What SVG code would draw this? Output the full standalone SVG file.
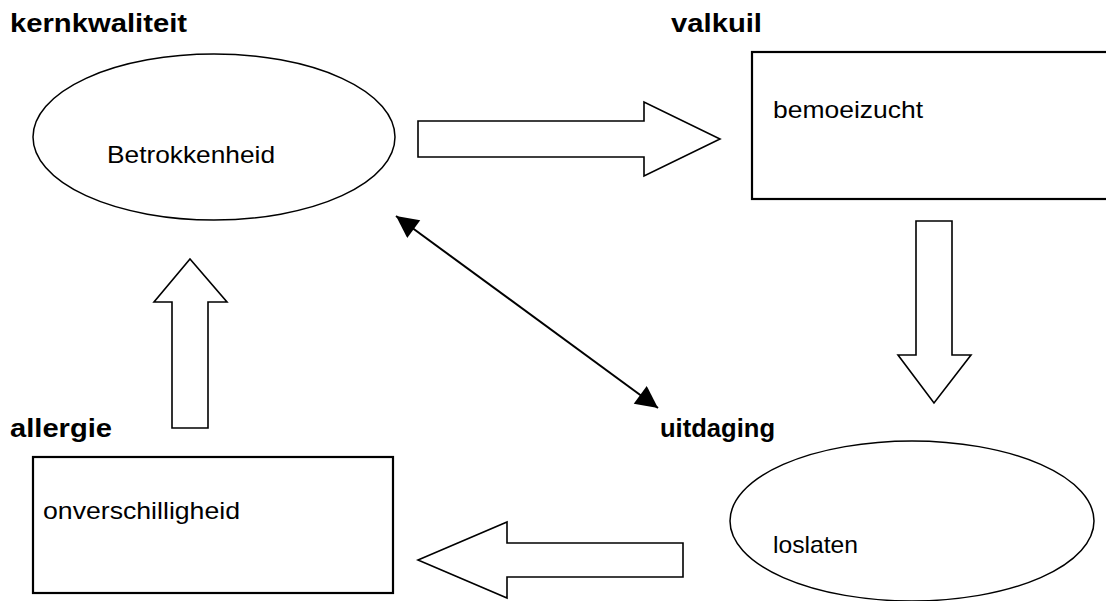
<svg xmlns="http://www.w3.org/2000/svg" width="1106" height="601" viewBox="0 0 1106 601">
<style>
.lbl{font-family:"Liberation Sans",Arial,sans-serif;font-weight:bold;font-size:26px;fill:#000}
.txt{font-family:"Liberation Sans",Arial,sans-serif;font-size:24px;fill:#000}
.shape{fill:#fff;stroke:#000;stroke-width:1.5}
.box{fill:#fff;stroke:#000;stroke-width:2.2}
.blk{fill:#fff;stroke:#000;stroke-width:1.6;stroke-linejoin:miter}
.con{stroke:#000;stroke-width:2;fill:none}
</style>
<defs>
<marker id="ah" viewBox="0 0 10 10" refX="10" refY="5" markerUnits="userSpaceOnUse" markerWidth="26" markerHeight="22" orient="auto-start-reverse">
<path d="M0,0 L10,5 L0,10 Z" fill="#000"/>
</marker>
</defs>
<rect width="1106" height="601" fill="#fff"/>
<g id="kernkwaliteit">
<text class="lbl" x="10" y="32" textLength="177" lengthAdjust="spacingAndGlyphs">kernkwaliteit</text>
<ellipse class="shape" cx="214" cy="137" rx="181" ry="83"/>
<text class="txt" x="107" y="163" textLength="168" lengthAdjust="spacingAndGlyphs">Betrokkenheid</text>
</g>
<g id="valkuil">
<text class="lbl" x="671" y="32" textLength="91" lengthAdjust="spacingAndGlyphs">valkuil</text>
<rect class="box" x="752" y="52" width="370" height="147"/>
<text class="txt" x="773" y="118" textLength="150" lengthAdjust="spacingAndGlyphs">bemoeizucht</text>
</g>
<g id="allergie">
<text class="lbl" x="10" y="437" textLength="102" lengthAdjust="spacingAndGlyphs">allergie</text>
<rect class="box" x="33" y="457" width="360" height="136"/>
<text class="txt" x="43" y="519" textLength="197" lengthAdjust="spacingAndGlyphs">onverschilligheid</text>
</g>
<g id="uitdaging">
<text class="lbl" x="660" y="437" textLength="115" lengthAdjust="spacingAndGlyphs">uitdaging</text>
<ellipse class="shape" cx="912" cy="521" rx="182" ry="80"/>
<text class="txt" x="773" y="553" textLength="85" lengthAdjust="spacingAndGlyphs">loslaten</text>
</g>
<g id="connectors">
<path class="blk" d="M418,121 L644,121 L644,102 L720,139 L644,176 L644,157 L418,157 Z"/>
<path class="blk" d="M916,221 L952,221 L952,355 L971,355 L934,403 L898,355 L916,355 Z"/>
<path class="blk" d="M683,543 L507,543 L507,522 L418,560 L507,598 L507,577 L683,577 Z"/>
<path class="blk" d="M172,428 L172,302 L154,302 L190,259 L227,302 L208,302 L208,428 Z"/>
<line class="con" x1="396" y1="216" x2="658" y2="408" marker-start="url(#ah)" marker-end="url(#ah)"/>
</g>
</svg>
